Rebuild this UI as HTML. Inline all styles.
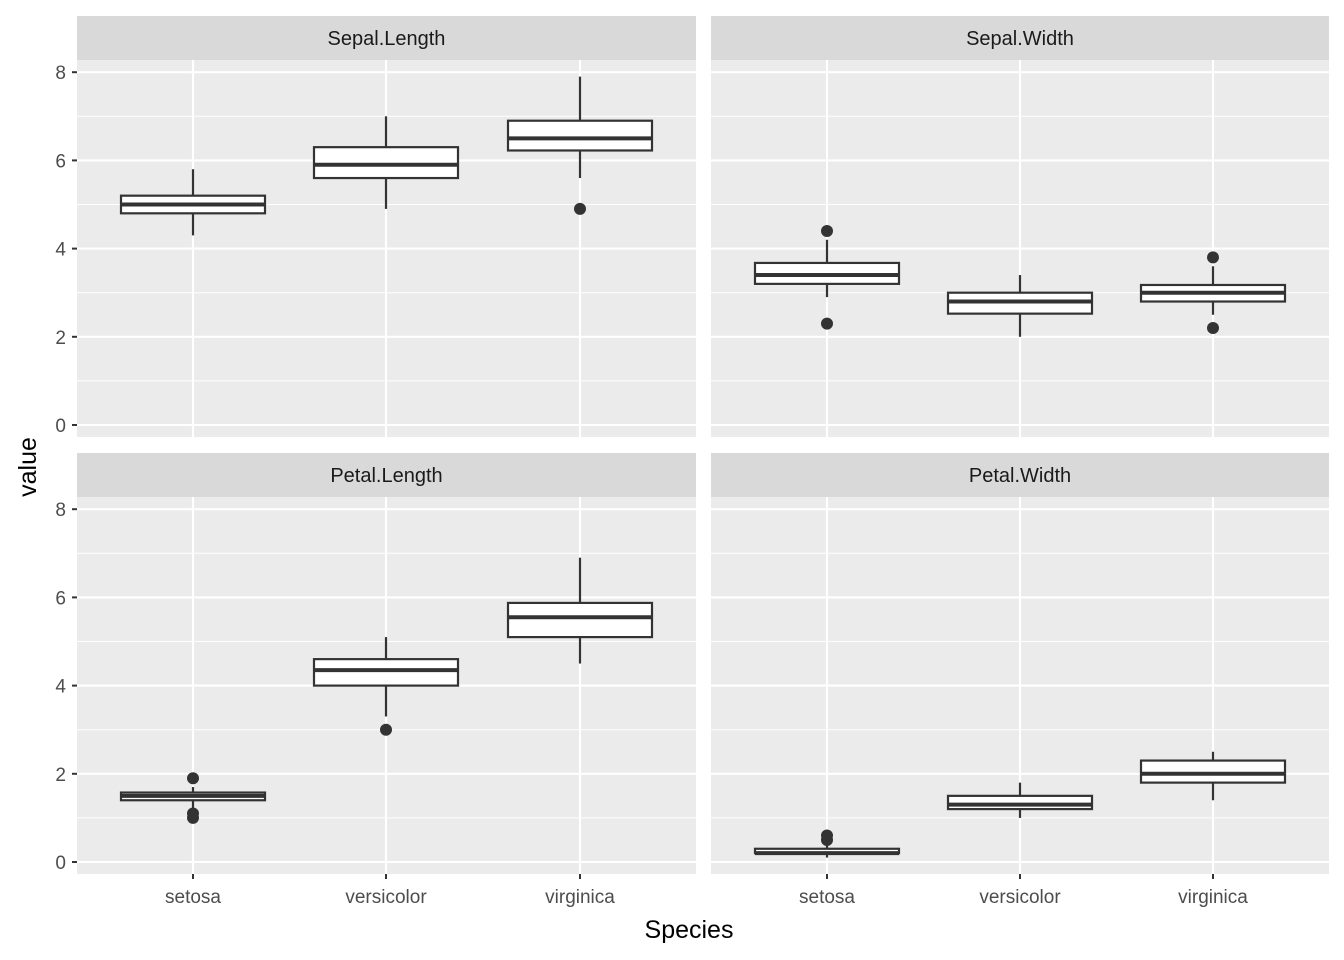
<!DOCTYPE html>
<html><head><meta charset="utf-8"><style>
html,body{margin:0;padding:0;background:#fff;}
svg{display:block;font-family:"Liberation Sans",sans-serif;}
</style></head><body>
<svg id="s" width="1344" height="960" xmlns="http://www.w3.org/2000/svg"></svg>
<script>
var s=document.getElementById('s'),h='';
var panels=[
 {x0:77,x1:696,st:16,y0:60,y1:437,z:425,name:'Sepal.Length',xs:[193,386,580],ticks:true,
  b:[[4.3,4.8,5.0,5.2,5.8,[]],[4.9,5.6,5.9,6.3,7.0,[]],[5.6,6.225,6.5,6.9,7.9,[4.9]]]},
 {x0:711,x1:1329,st:16,y0:60,y1:437,z:425,name:'Sepal.Width',xs:[827,1020,1213],ticks:false,
  b:[[2.9,3.2,3.4,3.675,4.2,[4.4,2.3]],[2.0,2.525,2.8,3.0,3.4,[]],[2.5,2.8,3.0,3.175,3.6,[3.8,2.2]]]},
 {x0:77,x1:696,st:453,y0:497,y1:874,z:862,name:'Petal.Length',xs:[193,386,580],ticks:true,bottom:true,
  b:[[1.2,1.4,1.5,1.575,1.7,[1.0,1.1,1.9]],[3.3,4.0,4.35,4.6,5.1,[3.0]],[4.5,5.1,5.55,5.875,6.9,[]]]},
 {x0:711,x1:1329,st:453,y0:497,y1:874,z:862,name:'Petal.Width',xs:[827,1020,1213],ticks:false,bottom:true,
  b:[[0.1,0.2,0.2,0.3,0.4,[0.5,0.6]],[1.0,1.2,1.3,1.5,1.8,[]],[1.4,1.8,2.0,2.3,2.5,[]]]}
];
var k=44.1;
panels.forEach(function(p){
 var Y=function(v){return p.z-v*k;};
 h+='<rect x="'+p.x0+'" y="'+p.st+'" width="'+(p.x1-p.x0)+'" height="'+(p.y0-p.st)+'" fill="#d9d9d9"/>';
 h+='<text x="'+(p.x0+p.x1)/2+'" y="'+(p.st+29)+'" font-size="20" fill="#1a1a1a" text-anchor="middle">'+p.name+'</text>';
 h+='<rect x="'+p.x0+'" y="'+p.y0+'" width="'+(p.x1-p.x0)+'" height="'+(p.y1-p.y0)+'" fill="#ebebeb"/>';
 [1,3,5,7].forEach(function(v){h+='<line x1="'+p.x0+'" x2="'+p.x1+'" y1="'+Y(v)+'" y2="'+Y(v)+'" stroke="#fff" stroke-width="1"/>';});
 [0,2,4,6,8].forEach(function(v){h+='<line x1="'+p.x0+'" x2="'+p.x1+'" y1="'+Y(v)+'" y2="'+Y(v)+'" stroke="#fff" stroke-width="2.1"/>';
  if(p.ticks){h+='<line x1="72" x2="77" y1="'+Y(v)+'" y2="'+Y(v)+'" stroke="#333" stroke-width="2"/>';
   h+='<text x="66" y="'+(Y(v)+7)+'" font-size="19" fill="#4d4d4d" text-anchor="end">'+v+'</text>';}});
 var lab=['setosa','versicolor','virginica'];
 p.xs.forEach(function(x,i){h+='<line x1="'+x+'" x2="'+x+'" y1="'+p.y0+'" y2="'+p.y1+'" stroke="#fff" stroke-width="2.1"/>';
  if(p.bottom){h+='<line x1="'+x+'" x2="'+x+'" y1="874" y2="879" stroke="#333" stroke-width="2"/>';
   h+='<text x="'+x+'" y="903" font-size="19" fill="#4d4d4d" text-anchor="middle">'+lab[i]+'</text>';}});
 p.b.forEach(function(b,i){var x=p.xs[i],w=72;
  h+='<line x1="'+x+'" x2="'+x+'" y1="'+Y(b[0])+'" y2="'+Y(b[1])+'" stroke="#333" stroke-width="2.2"/>';
  h+='<line x1="'+x+'" x2="'+x+'" y1="'+Y(b[3])+'" y2="'+Y(b[4])+'" stroke="#333" stroke-width="2.2"/>';
  h+='<rect x="'+(x-w)+'" y="'+Y(b[3])+'" width="'+(2*w)+'" height="'+(Y(b[1])-Y(b[3]))+'" fill="#fff" stroke="#333" stroke-width="2.2"/>';
  h+='<line x1="'+(x-w)+'" x2="'+(x+w)+'" y1="'+Y(b[2])+'" y2="'+Y(b[2])+'" stroke="#333" stroke-width="4"/>';
  b[5].forEach(function(o){h+='<circle cx="'+x+'" cy="'+Y(o)+'" r="6" fill="#333"/>';});
 });
});
h+='<text x="689" y="938" font-size="25" fill="#000" text-anchor="middle">Species</text>';
h+='<text transform="translate(36,467) rotate(-90)" font-size="25" fill="#000" text-anchor="middle">value</text>';
s.innerHTML=h;
</script>
</body></html>
